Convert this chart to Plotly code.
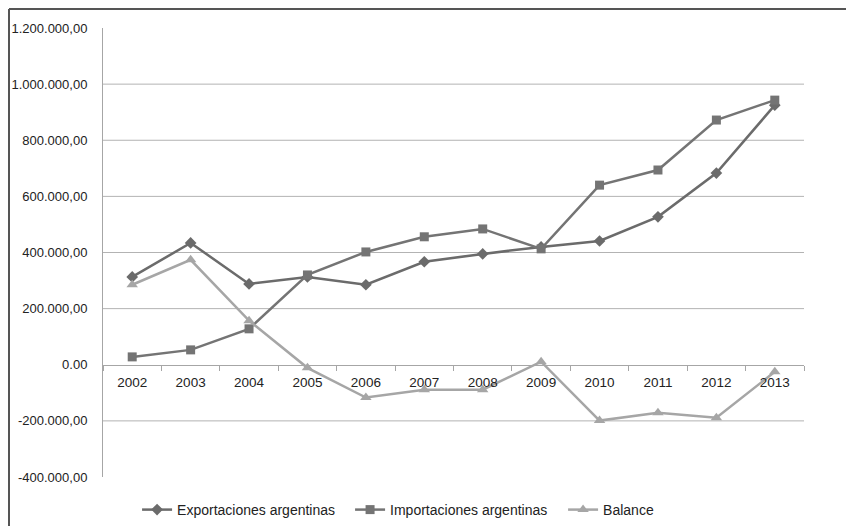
import plotly.graph_objects as go

years = ["2002", "2003", "2004", "2005", "2006", "2007", "2008", "2009", "2010", "2011", "2012", "2013"]
exportaciones = [313000, 434000, 288000, 313000, 285000, 367000, 395000, 420000, 441000, 527000, 683000, 925000]
importaciones = [28000, 53000, 128000, 320000, 402000, 456000, 484000, 413000, 640000, 694000, 872000, 943000]
balance = [285000, 374000, 157000, -11000, -117000, -89000, -89000, 11000, -199000, -171000, -189000, -25000]

y_tick_vals = [-400000, -200000, 0, 200000, 400000, 600000, 800000, 1000000, 1200000]
y_tick_text = ["-400.000,00", "-200.000,00", "0.00", "200.000,00", "400.000,00",
               "600.000,00", "800.000,00", "1.000.000,00", "1.200.000,00"]
grid_vals = [-200000, 200000, 400000, 600000, 800000, 1000000]

FONT = "Liberation Sans, Arial, sans-serif"

fig = go.Figure()
fig.add_trace(go.Scatter(
    x=years, y=exportaciones, name="Exportaciones argentinas", mode="lines+markers",
    line=dict(color="#6b6b6b", width=2.5),
    marker=dict(symbol="diamond", size=9, color="#6b6b6b")))
fig.add_trace(go.Scatter(
    x=years, y=importaciones, name="Importaciones argentinas", mode="lines+markers",
    line=dict(color="#747474", width=2.5),
    marker=dict(symbol="square", size=9, color="#747474")))
fig.add_trace(go.Scatter(
    x=years, y=balance, name="Balance", mode="lines+markers",
    line=dict(color="#a6a6a6", width=2.5),
    marker=dict(symbol="triangle-up", size=10, color="#a6a6a6")))

PW, PH = 701, 449
shapes = []
for g in grid_vals:
    shapes.append(dict(type="line", xref="paper", yref="y", x0=0, x1=1, y0=g, y1=g,
                       line=dict(color="#b3b3b3", width=1), layer="below"))
# outer chart border (left and top)
bx = -94 / PW
by = 1 + 19 / PH
shapes.append(dict(type="line", xref="paper", yref="paper", x0=bx, x1=bx,
                   y0=-70/PH, y1=by, line=dict(color="#555555", width=2)))
shapes.append(dict(type="line", xref="paper", yref="paper", x0=bx, x1=1 + 70/PW,
                   y0=by, y1=by, line=dict(color="#555555", width=2)))

fig.update_layout(
    width=854, height=526,
    margin=dict(l=95, r=58, t=20, b=57, autoexpand=False),
    paper_bgcolor="white", plot_bgcolor="white",
    font=dict(family=FONT, size=13, color="#222222"),
    showlegend=True,
    legend=dict(orientation="h", x=0.0486, xanchor="left", y=-33/PH, yanchor="middle",
                font=dict(size=14, color="#222222"), itemwidth=30,
                entrywidth=168, entrywidthmode="pixels"),
    shapes=shapes,
    xaxis=dict(type="category", range=[-0.5, 11.5], anchor="free", position=0.25,
               showline=True, linecolor="#a6a6a6", linewidth=1,
               ticks="outside", tickson="boundaries", ticklen=5, tickcolor="#a6a6a6",
               ticklabelstandoff=5,
               showgrid=False, zeroline=False, tickfont=dict(size=13.5)),
    yaxis=dict(range=[-400000, 1200000], tickvals=y_tick_vals, ticktext=y_tick_text,
               showgrid=False, zeroline=False, showline=True, linecolor="#a6a6a6",
               linewidth=1, ticks="", ticklabelstandoff=12, tickfont=dict(size=13)),
)

fig.write_html("out.html")
